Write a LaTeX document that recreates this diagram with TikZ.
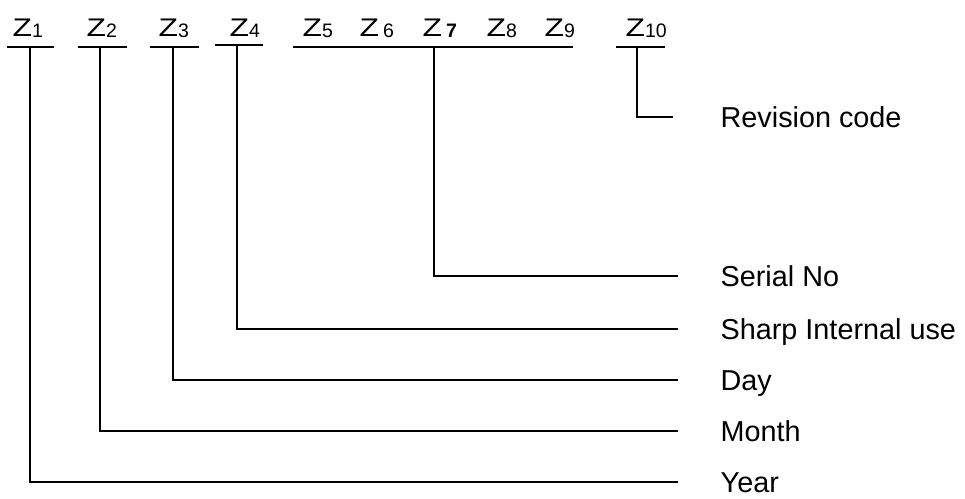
\documentclass[tikz,border=0pt]{standalone}
\usepackage{fontspec}
\setmainfont{Liberation Sans}
\usetikzlibrary{positioning}

% Z with its lowered index
\newcommand{\zidx}[1]{{\scalebox{1.25}[1]{Z}}\raisebox{-1pt}{\fontsize{19.5}{20}\selectfont #1}}

\begin{document}
\begin{tikzpicture}[
    x=1pt, y=-1pt,
    line width=1.3pt,
    zlab/.style={anchor=base west, inner sep=0pt, font=\fontsize{25.5}{26}\selectfont},
    field/.style={anchor=west, inner sep=0pt, text height=21pt, text depth=0pt, font=\fontsize{28.8}{30}\selectfont}
]
\useasboundingbox (0,0) rectangle (965,498);

% Digits of the code
\node[zlab] (z1) at (12,36) {\zidx{1}};
\node[zlab] (z2) at (86,36) {\zidx{2}};
\node[zlab] (z3) at (158,36) {\zidx{3}};
\node[zlab] (z4) at (229,36) {\zidx{4}};
\node[zlab] (z5) at (302,36) {\zidx{5}};
\node[zlab] (z6) at (359,36) {\scalebox{1.25}[1]{Z}\hspace{4pt}\raisebox{-1pt}{\fontsize{19.5}{20}\selectfont 6}};
\node[zlab] (z7) at (422,36) {\scalebox{1.25}[1]{Z}\hspace{4pt}\raisebox{-1pt}{\fontsize{19.5}{20}\selectfont\bfseries 7}};
\node[zlab] (z8) at (486,36) {\zidx{8}};
\node[zlab] (z9) at (544,36) {\zidx{9}};
\node[zlab] (z10) at (625,36) {\zidx{10}};

% Underlines
\foreach \a/\b in {7/54, 78/127, 150/199, 293/573, 616/665}
  \draw (\a,47) -- (\b,47);
\draw (215,45) -- (263,45);

% Feet of the underlines
\coordinate (t1) at (30,47);
\coordinate (t2) at (100,47);
\coordinate (t3) at (173,47);
\coordinate (t4) at (237,45);
\coordinate (t7) at (434,47);
\coordinate (t10) at (637,47);

% Meanings
\node[field] (rev) at (720,117) {Revision code};
\node[field] (serial) at (720,276) {Serial No};
\node[field] (sharp) at (720,329) {Sharp Internal use};
\node[field] (day) at (720,380) {Day};
\node[field] (month) at (720,431) {Month};
\node[field] (year) at (720,482) {Year};

\draw[shorten >=47pt] (t10) |- (rev);
\draw[shorten >=42pt] (t7) |- (serial);
\draw[shorten >=42pt] (t4) |- (sharp);
\draw[shorten >=42pt] (t3) |- (day);
\draw[shorten >=42pt] (t2) |- (month);
\draw[shorten >=42pt] (t1) |- (year);

\end{tikzpicture}
\end{document}
